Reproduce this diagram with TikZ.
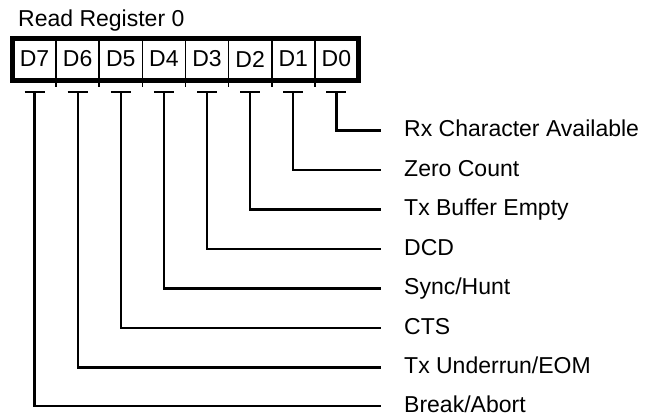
\documentclass[tikz,border=0pt]{standalone}
\usepackage{fontspec}
\setmainfont{Liberation Sans}
\usepackage{tikz}
\usetikzlibrary{positioning}

\begin{document}
\begin{tikzpicture}[x=1pt, y=-1pt,
        every node/.style={font=\fontsize{23pt}{27pt}\selectfont},
        cell/.style={rectangle, draw, line width=1.6pt, minimum width=43.125pt, minimum height=42pt, inner sep=0pt, outer sep=0pt},
        field/.style={anchor=west, inner sep=0pt, text height=14pt, text depth=1.4pt},
        frame/.style={line width=5pt},
        tbar/.style={line width=2.2pt},
        wire/.style={line width=2.2pt}]
        \useasboundingbox (0,0) rectangle (652,416);

        \node (title) [anchor=base west, inner sep=0pt] at (18,26) {Read Register 0};

        % register cells
        \node (d7) [cell] at (34.56,59) {D7};
        \node (d6) [cell, right=0pt of d7] {D6};
        \node (d5) [cell, right=0pt of d6] {D5};
        \node (d4) [cell, right=0pt of d5] {D4};
        \node (d3) [cell, right=0pt of d4] {D3};
        \node (d2) [cell, right=0pt of d3] {D2};
        \node (d1) [cell, right=0pt of d2] {D1};
        \node (d0) [cell, right=0pt of d1] {D0};
        \draw[frame] (d7.north west) rectangle (d0.south east);
        \draw[line width=1.6pt] (d7.south east) -- ++(0,7) (d6.south east) -- ++(0,7)
            (d5.south east) -- ++(0,7) (d4.south east) -- ++(0,7) (d3.south east) -- ++(0,7)
            (d2.south east) -- ++(0,7) (d1.south east) -- ++(0,7);

        % bit names
        \node (l0) [field] at (404,130.5) {Rx Character Available};
        \node (l1) [field] at (404,170) {Zero Count};
        \node (l2) [field] at (404,209.5) {Tx Buffer Empty};
        \node (l3) [field] at (404,249) {DCD};
        \node (l4) [field] at (404,288.5) {Sync/Hunt};
        \node (l5) [field] at (404,328) {CTS};
        \node (l6) [field] at (404,367.5) {Tx Underrun/EOM};
        \node (l7) [field] at (404,406) {Break/Abort};

        % T marks
        \draw[tbar] ([xshift=-10pt, yshift=-12pt]d7.south) -- ([xshift=10pt, yshift=-12pt]d7.south);
        \draw[tbar] ([xshift=-10pt, yshift=-12pt]d6.south) -- ([xshift=10pt, yshift=-12pt]d6.south);
        \draw[tbar] ([xshift=-10pt, yshift=-12pt]d5.south) -- ([xshift=10pt, yshift=-12pt]d5.south);
        \draw[tbar] ([xshift=-10pt, yshift=-12pt]d4.south) -- ([xshift=10pt, yshift=-12pt]d4.south);
        \draw[tbar] ([xshift=-10pt, yshift=-12pt]d3.south) -- ([xshift=10pt, yshift=-12pt]d3.south);
        \draw[tbar] ([xshift=-10pt, yshift=-12pt]d2.south) -- ([xshift=10pt, yshift=-12pt]d2.south);
        \draw[tbar] ([xshift=-10pt, yshift=-12pt]d1.south) -- ([xshift=10pt, yshift=-12pt]d1.south);
        \draw[tbar] ([xshift=-10pt, yshift=-12pt]d0.south) -- ([xshift=10pt, yshift=-12pt]d0.south);

        % wires
        \draw[wire] ([yshift=-12pt]d0.south) |- ([xshift=-23pt]l0.west);
        \draw[wire] ([yshift=-12pt]d1.south) |- ([xshift=-23pt]l1.west);
        \draw[wire] ([yshift=-12pt]d2.south) |- ([xshift=-23pt]l2.west);
        \draw[wire] ([yshift=-12pt]d3.south) |- ([xshift=-23pt]l3.west);
        \draw[wire] ([yshift=-12pt]d4.south) |- ([xshift=-23pt]l4.west);
        \draw[wire] ([yshift=-12pt]d5.south) |- ([xshift=-23pt]l5.west);
        \draw[wire] ([yshift=-12pt]d6.south) |- ([xshift=-23pt]l6.west);
        \draw[wire] ([yshift=-12pt]d7.south) |- ([xshift=-23pt]l7.west);
    \end{tikzpicture}
\end{document}
